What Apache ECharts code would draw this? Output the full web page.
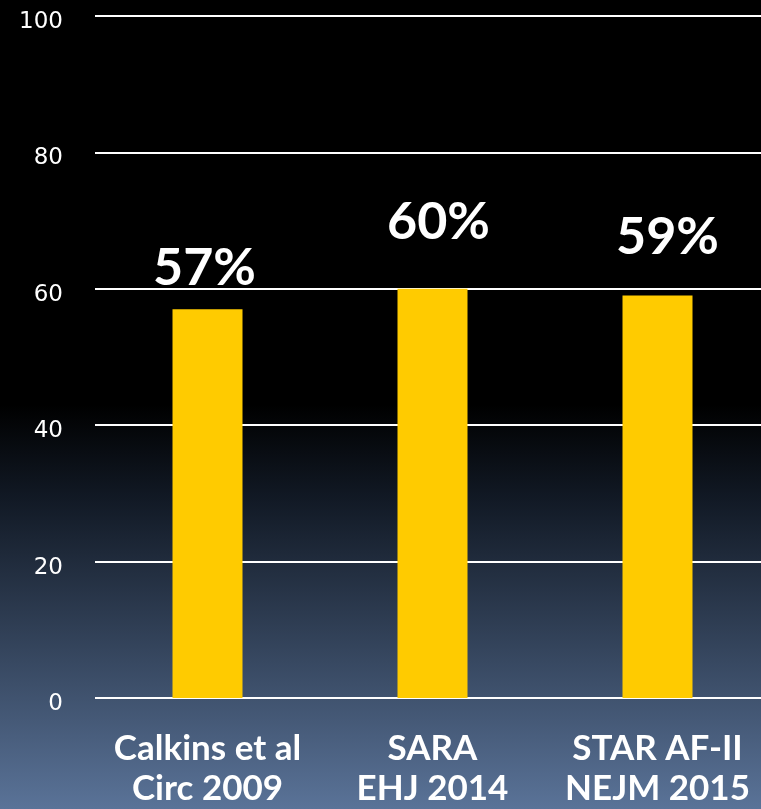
<!DOCTYPE html>
<html>
<head>
<meta charset="utf-8">
<script src="https://cdn.jsdelivr.net/npm/echarts@6/dist/echarts.min.js"></script>
<style>
  html, body { margin: 0; padding: 0; background: #000; }
  #chart { width: 761px; height: 809px; }
</style>
</head>
<body>
<div id="chart"></div>
<script>
// Studies compared
const studies = ['Calkins et al\nCirc 2009', 'SARA\nEHJ 2014', 'STAR AF-II\nNEJM 2015'];
// Percentage per study
const rates = [57, 60, 59];
// Value-axis ticks
const yTicks = [0, 20, 40, 60, 80, 100];

// Per-bar placement of the percentage labels (offset in px from bar top)
const labelOffsets = [[-3, -10], [6, -36], [10, -27]];

const chart = echarts.init(document.getElementById('chart'), null, { renderer: 'canvas' });

chart.setOption({
  animation: false,
  backgroundColor: {
    type: 'linear', x: 0, y: 0, x2: 0, y2: 1,
    colorStops: [
      { offset: 0, color: '#000000' },
      { offset: 0.5, color: '#000000' },
      { offset: 0.62, color: '#121a26' },
      { offset: 1, color: '#5a7398' }
    ]
  },
  grid: { left: 95, right: -9, top: 16, bottom: 111, containLabel: false, outerBoundsMode: 'none' },
  xAxis: {
    type: 'category',
    data: studies,
    axisLine: { show: false },
    axisTick: { show: false },
    axisLabel: {
      interval: 0,
      hideOverlap: false,
      color: '#ffffff',
      fontFamily: 'Lato, "Open Sans", sans-serif',
      fontWeight: 'bold',
      fontSize: 35,
      lineHeight: 40,
      margin: 31
    }
  },
  yAxis: {
    type: 'value',
    min: yTicks[0],
    max: yTicks[yTicks.length - 1],
    interval: 20,
    axisLine: { show: false },
    axisTick: { show: false },
    splitLine: { lineStyle: { color: '#ffffff', width: 2 } },
    axisLabel: {
      color: '#ffffff',
      fontFamily: '"DejaVu Sans", sans-serif',
      fontSize: 23,
      margin: 32,
      verticalAlign: 'top',
      lineHeight: 12
    }
  },
  series: [{
    type: 'bar',
    barWidth: 70,
    itemStyle: { color: '#ffcb00' },
    data: rates.map((v, i) => ({
      value: v,
      label: {
        show: true,
        position: 'top',
        offset: labelOffsets[i],
        formatter: '{c}%',
        color: '#ffffff',
        fontFamily: 'Lato, "Open Sans", sans-serif',
        fontWeight: 'bold',
        fontSize: 52
      }
    }))
  }]
});
</script>
</body>
</html>
